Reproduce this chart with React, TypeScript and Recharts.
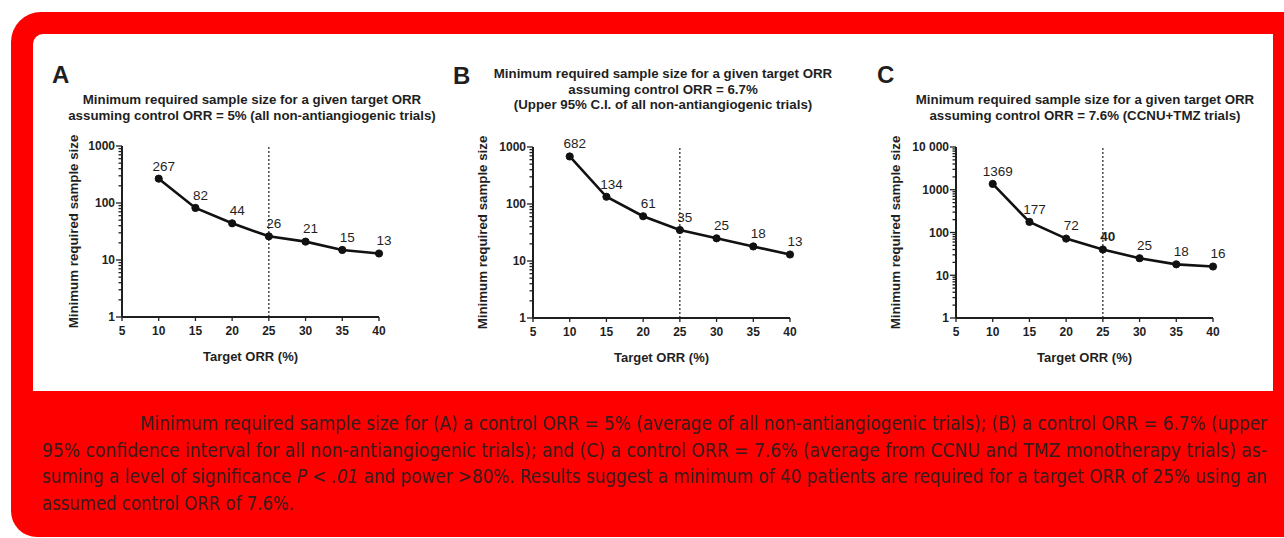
import React from "react";
import { LineChart, Line, XAxis, YAxis, ReferenceLine, LabelList } from "recharts";

// target ORR (%) on the x axis, same for all three panels
const targetOrr = [10, 15, 20, 25, 30, 35, 40];
const sampleA = [267, 82, 44, 26, 21, 15, 13];
const sampleB = [682, 134, 61, 35, 25, 18, 13];
const sampleC = [1369, 177, 72, 40, 25, 18, 16];

const xTicks = [5, 10, 15, 20, 25, 30, 35, 40];
const yMajorAB = [1, 10, 100, 1000];
const yMajorC = [1, 10, 100, 1000, 10000];
const cutoffOrr = 25;

const titleA = [
  "Minimum required sample size for a given target ORR",
  "assuming control ORR = 5% (all non-antiangiogenic trials)",
];
const titleB = [
  "Minimum required sample size for a given target ORR",
  "assuming control ORR = 6.7%",
  "(Upper 95% C.I. of all non-antiangiogenic trials)",
];
const titleC = [
  "Minimum required sample size for a given target ORR",
  "assuming control ORR = 7.6% (CCNU+TMZ trials)",
];

const INK = "#1f1f1f";
const FONT = "'Liberation Sans', Arial, Helvetica, sans-serif";
const CAPTION_FONT = "'DejaVu Sans Condensed', 'Liberation Sans', sans-serif";
const CAPTION_INK = "#3a1c1c";

// log axis: majors plus the 2..9 minor ticks of every decade
function withMinor(major: number[]) {
  const out: number[] = [];
  major.forEach((m, i) => {
    out.push(m);
    if (i < major.length - 1) for (let k = 2; k <= 9; k++) out.push(m * k);
  });
  return out;
}

const fmt = (v: number) => (v >= 10000 ? String(v).replace(/(\d)(?=(\d{3})+$)/g, "$1 ") : String(v));

function YTick({ x, y, payload, majors }: any) {
  const v = payload.value;
  const major = majors.includes(v);
  const len = major ? 6 : 3.5;
  return (
    <g>
      <line x1={x} x2={x - len} y1={y} y2={y} stroke={INK} strokeWidth={1.3} />
      {major && (
        <text x={x - len - 1} y={y} dy="0.36em" textAnchor="end" fontSize={12} fontWeight={700} fill={INK} fontFamily={FONT}>
          {fmt(v)}
        </text>
      )}
    </g>
  );
}

interface PanelProps {
  letter: string;
  title: string[];
  values: number[];
  majors: number[];
  axisX: number;
  plotTop: number;
  yw: number;
  yLabelAt: number;
  titleX: number;
  titleY: number;
  letterX: number;
  letterTop: number;
  boldValue?: number;
}

function Panel(p: PanelProps) {
  const data = targetOrr.map((orr, i) => ({ orr, n: p.values[i] }));
  const plotW = 257;
  const plotH = 171;
  const mTop = 12;
  const xh = 52;
  const mRight = 22;
  const W = p.yw + plotW + mRight;
  const H = mTop + plotH + xh;
  const ticks = withMinor(p.majors);

  const renderValue = (lp: any) => (
    <text
      x={lp.x + 5}
      y={lp.y - 13}
      dy="0.36em"
      textAnchor="middle"
      fontSize={13.5}
      fontWeight={lp.value === p.boldValue ? 700 : 400}
      fill={INK}
      fontFamily={FONT}
    >
      {lp.value}
    </text>
  );

  return (
    <>
      <div
        style={{
          position: "absolute", left: p.letterX, top: p.letterTop, fontSize: 24, fontWeight: 700,
          lineHeight: 1, color: INK, fontFamily: FONT,
        }}
      >
        {p.letter}
      </div>
      <div
        style={{
          position: "absolute", left: p.titleX - 250, top: p.titleY - 8, width: 500, textAlign: "center",
          fontSize: 13.3, fontWeight: 700, lineHeight: "15.5px", color: INK, fontFamily: FONT,
        }}
      >
        {p.title.map((t) => (
          <div key={t}>{t}</div>
        ))}
      </div>
      <div style={{ position: "absolute", left: p.axisX - p.yw, top: p.plotTop - mTop }}>
        <LineChart width={W} height={H} data={data} margin={{ top: mTop, right: mRight, bottom: 0, left: 0 }}>
          <XAxis
            dataKey="orr"
            type="number"
            domain={[5, 40]}
            ticks={xTicks}
            interval={0}
            height={xh}
            tickSize={4}
            tickMargin={5}
            axisLine={{ stroke: INK, strokeWidth: 2 }}
            tickLine={{ stroke: INK, strokeWidth: 1.3 }}
            tick={{ fontSize: 12, fontWeight: 700, fill: INK, fontFamily: FONT }}
            label={{
              value: "Target ORR (%)", position: "insideBottom", offset: 8,
              style: { fontSize: 13, fontWeight: 700, fill: INK, fontFamily: FONT },
            }}
          />
          <YAxis
            type="number"
            scale="log"
            domain={[p.majors[0], p.majors[p.majors.length - 1]]}
            allowDataOverflow
            ticks={ticks}
            interval={0}
            width={p.yw}
            tickSize={0}
            tickMargin={0}
            tickLine={false}
            axisLine={{ stroke: INK, strokeWidth: 2 }}
            tick={(tp: any) => <YTick {...tp} majors={p.majors} />}
            label={{
              value: "Minimum required sample size", angle: -90, position: "insideLeft", offset: p.yLabelAt,
              style: { textAnchor: "middle", fontSize: 13.3, fontWeight: 700, fill: INK, fontFamily: FONT },
            }}
          />
          <ReferenceLine x={cutoffOrr} stroke={INK} strokeWidth={1.2} strokeDasharray="2 2" />
          <Line
            type="linear"
            dataKey="n"
            stroke="#111"
            strokeWidth={2.6}
            dot={{ r: 3.6, fill: "#111", stroke: "#111", strokeWidth: 1 }}
            isAnimationActive={false}
          >
            <LabelList dataKey="n" content={renderValue} />
          </Line>
        </LineChart>
      </div>
    </>
  );
}

// caption lines are fitted to the justified widths of the printed figure
function Caption() {
  const common = {
    fontFamily: CAPTION_FONT,
    fontSize: 19,
    fill: CAPTION_INK,
    lengthAdjust: "spacingAndGlyphs" as const,
  };
  return (
    <svg width={1284} height={130} style={{ position: "absolute", left: 0, top: 400 }}>
      <text x={140} y={30} textLength={1127} {...common}>
        Minimum required sample size for (A) a control ORR = 5% (average of all non-antiangiogenic trials); (B) a control ORR = 6.7% (upper
      </text>
      <text x={42} y={56.5} textLength={1225} {...common}>
        95% confidence interval for all non-antiangiogenic trials); and (C) a control ORR = 7.6% (average from CCNU and TMZ monotherapy trials) as-
      </text>
      <text x={42} y={83} textLength={1225} {...common}>
        suming a level of significance <tspan fontStyle="italic">P &lt; .01</tspan> and power &gt;80%. Results suggest a minimum of 40 patients are required for a target ORR of 25% using an
      </text>
      <text x={42} y={109.5} textLength={252} {...common}>
        assumed control ORR of 7.6%.
      </text>
    </svg>
  );
}

export default function App() {
  return (
    <div
      style={{
        position: "absolute", left: 0, top: 0, width: 1284, height: 538, overflow: "hidden",
        background: "#ffffff", fontFamily: FONT,
      }}
    >
      <div
        style={{
          position: "absolute", left: 11, top: 12, width: 1300, height: 525, background: "#ff0000",
          borderRadius: "30px 0 0 26px",
        }}
      />
      <div
        style={{
          position: "absolute", left: 33, top: 34, width: 1240, height: 357, background: "#ffffff",
          borderTopLeftRadius: 10,
        }}
      />

      <Panel
        letter="A" title={titleA} values={sampleA} majors={yMajorAB}
        axisX={122} plotTop={146} yw={70} yLabelAt={21}
        titleX={252} titleY={100} letterX={52} letterTop={63}
      />
      <Panel
        letter="B" title={titleB} values={sampleB} majors={yMajorAB}
        axisX={533} plotTop={147} yw={70} yLabelAt={19}
        titleX={663} titleY={74} letterX={453} letterTop={64}
      />
      <Panel
        letter="C" title={titleC} values={sampleC} majors={yMajorC}
        axisX={956} plotTop={147} yw={80} yLabelAt={19}
        titleX={1085} titleY={100} letterX={877} letterTop={63} boldValue={40}
      />

      <Caption />
    </div>
  );
}
